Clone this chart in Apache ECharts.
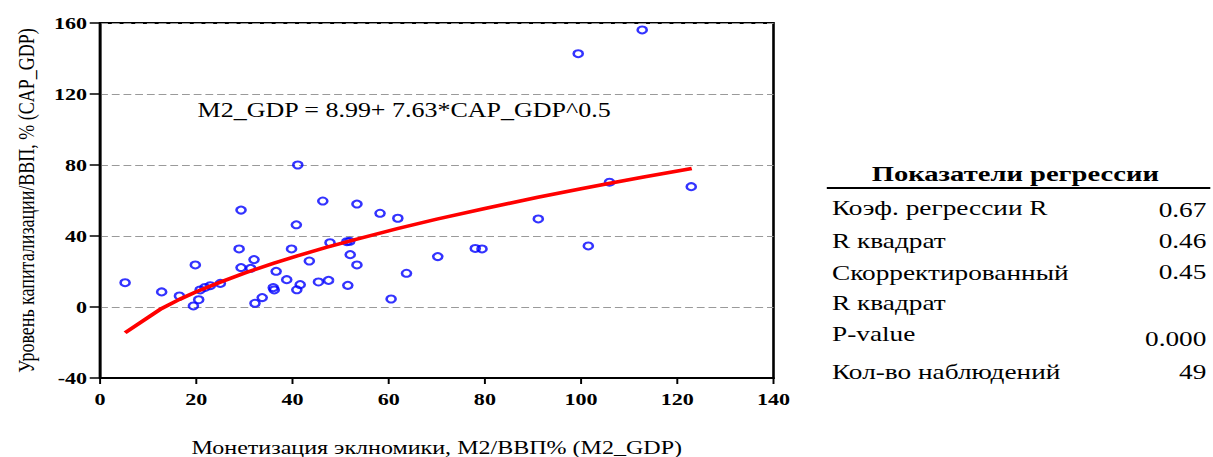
<!DOCTYPE html>
<html>
<head>
<meta charset="UTF-8">
<title>M2_GDP vs CAP_GDP</title>
<script src="https://cdn.jsdelivr.net/npm/echarts@6/dist/echarts.min.js"></script>
<style>
  html, body { margin: 0; padding: 0; background: #fff; overflow: hidden; }
  /* исходная картинка растянута по горизонтали, поэтому рисуем уже и растягиваем */
  #main { width: 933px; height: 457px; transform: scaleX(1.3); transform-origin: 0 0; }
</style>
</head>
<body>
<div id="main"></div>
<script>
// наблюдения: монетизация (x) и капитализация (y)
var m2Gdp = [5.2, 12.8, 16.5, 19.4, 20.5, 19.8, 20.8, 21.8, 22.9, 25.0,
             29.3, 28.9, 29.3, 31.3, 32.0, 32.2, 33.7, 36.6, 36.0, 36.2,
             38.8, 39.8, 40.8, 41.1, 40.9, 41.6, 46.3, 53.4, 58.2, 61.9,
             47.8, 51.3, 51.9, 43.5, 52.0, 53.4, 45.4, 47.5, 51.5, 60.5,
             63.7, 70.2, 78.0, 79.4, 91.1, 99.4, 101.5, 105.9, 112.7, 122.9];
var capGdp = [13.7, 8.5, 6.2, 0.6, 4.1, 23.7, 9.6, 11.0, 12.0, 13.3,
              54.6, 32.7, 22.2, 21.8, 26.7, 2.1, 5.3, 20.1, 10.9, 9.6,
              15.4, 32.7, 46.3, 80.0, 9.7, 12.6, 59.7, 58.0, 52.8, 50.0,
              36.2, 36.8, 37.0, 25.9, 29.5, 23.7, 14.1, 15.0, 12.2, 4.5,
              19.0, 28.4, 33.0, 32.7, 49.6, 142.7, 34.4, 70.3, 156.1, 67.8];

// линия регрессии
var fitX = [5.2, 12.8, 16.5, 20.0, 25.0, 30.0, 36.0, 41.0, 47.0, 53.0, 62.0, 70.0, 80.0, 91.0, 100.0, 106.0, 113.0, 123.0];
var fitY = [-14.5, -0.8, 4.3, 8.6, 14.0, 19.1, 24.6, 28.8, 33.6, 38.0, 44.3, 49.5, 55.5, 61.8, 66.6, 69.7, 73.2, 78.0];

var equation = 'M2_GDP = 8.99+ 7.63*CAP_GDP^0.5';

// таблица показателей
var statTitle = 'Показатели регрессии';
var statLabels = ['Коэф. регрессии R', 'R квадрат', 'Скорректированный\nR квадрат', 'P-value', 'Кол-во наблюдений'];
var statValues = ['0.67', '0.46', '0.45', '0.000', '49'];

var labelY = [208, 241, 273, 334, 372];
var valueY = [210, 241, 272, 339, 372];

var serif = 'Liberation Serif';

function txt(x, y, text, size, weight, align, vAlign) {
  return {
    type: 'text', x: x, y: y,
    style: {
      text: text, fontFamily: serif, fontSize: size, fontWeight: weight,
      fill: '#000', align: align, verticalAlign: vAlign, lineHeight: 30
    }
  };
}

var graphic = [
  txt(152, 110, equation, 20, 'normal', 'left', 'middle'),
  txt(781, 174, statTitle, 22, 'bold', 'center', 'middle'),
  {
    type: 'line', shape: { x1: 636, y1: 188, x2: 931, y2: 188 },
    style: { stroke: '#000', lineWidth: 2 }
  }
];
statLabels.forEach(function (t, i) {
  graphic.push(txt(640, labelY[i] - 15, t, 21, 'normal', 'left', 'top'));
  graphic.push(txt(928, valueY[i], statValues[i], 21, 'normal', 'right', 'middle'));
});

var myChart = echarts.init(document.getElementById('main'), null, { renderer: 'svg' });
var option = {
  animation: false,
  grid: {
    left: 77, top: 23, width: 518, height: 355, outerBoundsMode: 'none',
    show: true, borderColor: '#000', borderWidth: 2
  },
  xAxis: {
    type: 'value', min: 0, max: 140, interval: 20,
    name: 'Монетизация эклномики, М2/ВВП% (M2_GDP)',
    nameLocation: 'middle', nameGap: 60,
    nameTextStyle: { fontFamily: serif, fontSize: 18.5, color: '#000' },
    axisLine: { show: true, onZero: false, lineStyle: { color: '#000', width: 2 } },
    axisTick: { show: true, length: 6, lineStyle: { color: '#000', width: 1.5 } },
    axisLabel: { margin: 12, fontFamily: serif, fontWeight: 'bold', fontSize: 17, color: '#000' },
    splitLine: { show: false }
  },
  yAxis: {
    type: 'value', min: -40, max: 160, interval: 40,
    name: 'Уровень капитализации/ВВП, % (CAP_GDP)',
    nameLocation: 'middle', nameGap: 48,
    nameTextStyle: { fontFamily: serif, fontSize: 18, color: '#000' },
    axisLine: { show: true, onZero: false, lineStyle: { color: '#000', width: 2 } },
    axisTick: { show: true, length: 8, lineStyle: { color: '#000', width: 1.5 } },
    axisLabel: { margin: 10, fontFamily: serif, fontWeight: 'bold', fontSize: 17, color: '#000' },
    splitLine: { show: true, lineStyle: { color: '#9a9a9a', width: 1, type: [6, 3] } }
  },
  series: [
    {
      type: 'scatter',
      data: m2Gdp.map(function (x, i) { return [x, capGdp[i]]; }),
      symbol: 'circle', symbolSize: 7,
      itemStyle: { color: 'rgba(0,0,0,0)', borderColor: '#0000ff', borderWidth: 2 },
      z: 2
    },
    {
      type: 'line',
      data: fitX.map(function (x, i) { return [x, fitY[i]]; }),
      showSymbol: false, smooth: false,
      lineStyle: { color: '#ff0000', width: 3.5 },
      z: 3
    }
  ],
  graphic: graphic
};
myChart.setOption(option);
</script>
</body>
</html>
